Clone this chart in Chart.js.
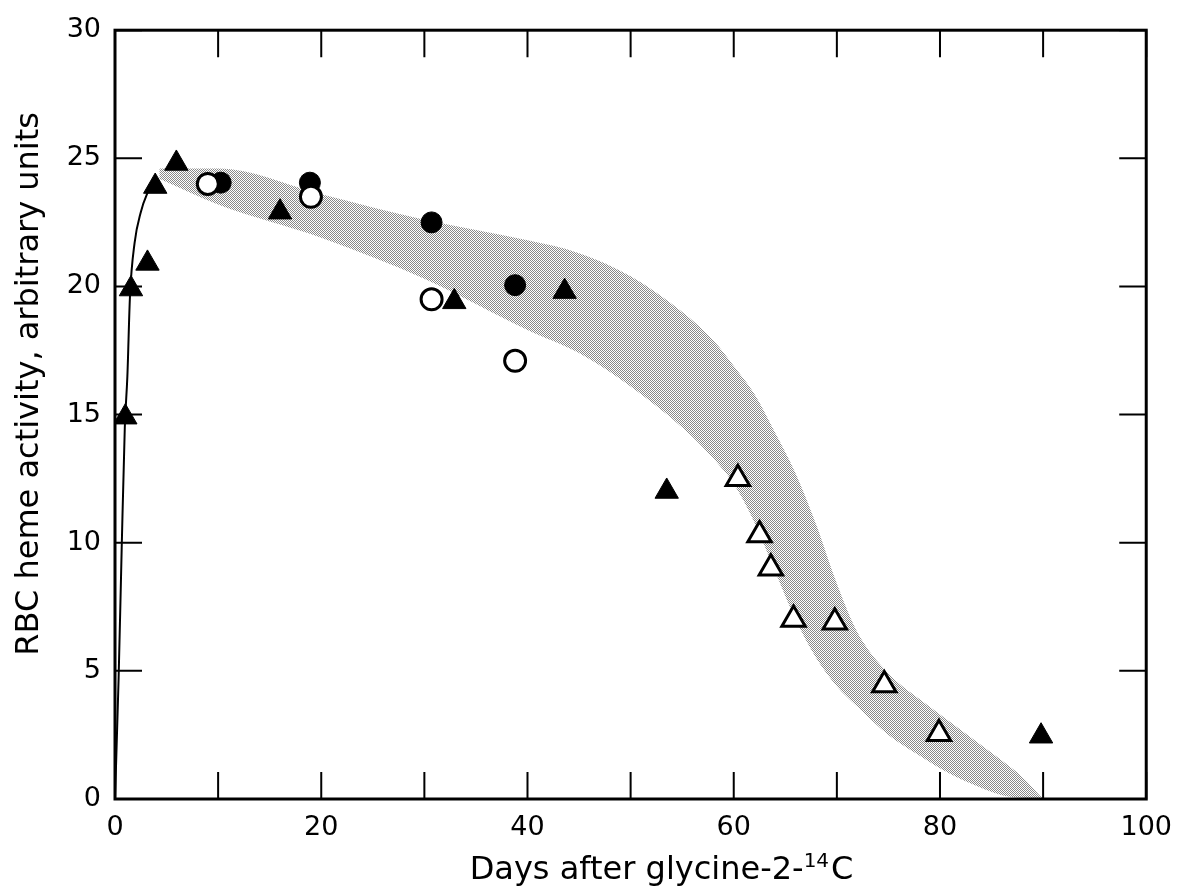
<!DOCTYPE html>
<html>
<head>
<meta charset="utf-8">
<script src="https://cdn.jsdelivr.net/npm/chart.js@4.4.1/dist/chart.umd.min.js"></script>
<style>
  body { margin: 0; background: #fff; }
  #wrap { width: 1185px; height: 896px; }
</style>
</head>
<body>
<div id="wrap"><canvas id="heme" width="1185" height="896"></canvas></div>
<script>
"use strict";

// Filled triangles
const filledTriDays = [1.0, 1.55, 3.15, 3.9, 5.95, 16.0, 32.9, 43.6, 53.5, 89.8];
const filledTriVals = [14.9, 19.9, 20.9, 23.9, 24.8, 22.9, 19.4, 19.8, 12.0, 2.45];

// Open triangles
const openTriDays = [60.4, 62.5, 63.6, 65.8, 69.8, 74.6, 79.9];
const openTriVals = [12.5, 10.3, 9.0, 7.0, 6.9, 4.45, 2.55];

// Filled circles
const filledCircDays = [10.25, 18.9, 30.7, 38.8];
const filledCircVals = [24.05, 24.05, 22.5, 20.05];

// Open circles
const openCircDays = [9.0, 19.0, 30.7, 38.8];
const openCircVals = [24.0, 23.5, 19.5, 17.1];

// Early rise curve
const riseDays = [0, 0.35, 0.65, 0.95, 1.2, 1.45, 1.9, 2.5, 3.1, 3.8];
const riseVals = [0, 4.7, 9.8, 14.5, 16.5, 19.6, 21.7, 22.9, 23.6, 24.1];

// Shaded band (upper and lower edge at same days)
const bandDays  = [4.3, 10, 20, 30, 40, 45, 50, 55, 58, 60, 62, 64, 66, 68, 70, 72, 75, 78, 80, 83, 86, 88, 90];
const bandUpper = [24.6, 24.6, 23.6, 22.6, 21.8, 21.3, 20.4, 19.0, 17.9, 16.9, 15.8, 14.3, 12.7, 10.7, 8.4, 6.5, 4.9, 3.9, 3.3, 2.4, 1.5, 0.85, 0];
const bandLower = [24.2, 23.2, 21.9, 20.3, 18.3, 17.4, 16.1, 14.5, 13.3, 12.3, 10.8, 8.9, 7.0, 5.5, 4.4, 3.6, 2.5, 1.7, 1.2, 0.6, 0.15, 0.05, 0];

// axis titles
const xTitleMain = 'Days after glycine-2-';
const xTitleSup = '14';
const xTitleTail = 'C';
const yTitle = 'RBC heme activity, arbitrary units';

const toPts = (xs, ys) => xs.map((v, i) => ({ x: v, y: ys[i] }));

// halftone look for the band
const pc = document.createElement('canvas');
pc.width = 2; pc.height = 2;
const pctx = pc.getContext('2d');
pctx.fillStyle = '#ffffff';
pctx.fillRect(0, 0, 2, 2);
pctx.fillStyle = '#888888';
pctx.fillRect(0, 0, 1, 1);
pctx.fillRect(1, 1, 1, 1);
const bandPattern = pctx.createPattern(pc, 'repeat');

const FONT = "'DejaVu Sans', sans-serif";

// box, inward ticks on all four sides, axis titles
const frame = {
    id: 'frame',
    afterDatasetsDraw(chart) {
        const { ctx, chartArea: a, scales: { x, y } } = chart;
        const len = 27;
        ctx.save();
        ctx.strokeStyle = '#000';
        ctx.lineWidth = 2;
        ctx.beginPath();
        x.ticks.forEach(t => {
            const px = x.getPixelForValue(t.value);
            ctx.moveTo(px, a.bottom); ctx.lineTo(px, a.bottom - len);
            ctx.moveTo(px, a.top); ctx.lineTo(px, a.top + len);
        });
        y.ticks.forEach(t => {
            const py = y.getPixelForValue(t.value);
            ctx.moveTo(a.left, py); ctx.lineTo(a.left + len, py);
            ctx.moveTo(a.right, py); ctx.lineTo(a.right - len, py);
        });
        ctx.stroke();
        ctx.lineWidth = 3;
        ctx.strokeRect(a.left, a.top, a.right - a.left, a.bottom - a.top);

        ctx.fillStyle = '#000';
        ctx.textBaseline = 'alphabetic';
        ctx.textAlign = 'left';
        // x title with raised 14
        const big = `32px ${FONT}`, small = `20px ${FONT}`;
        ctx.font = big;
        const w1 = ctx.measureText(xTitleMain).width;
        const w3 = ctx.measureText(xTitleTail).width;
        ctx.font = small;
        const w2 = ctx.measureText(xTitleSup).width + 2;
        let sx = x.getPixelForValue(53) - (w1 + w2 + w3) / 2;
        const base = 879;
        ctx.font = big;
        ctx.fillText(xTitleMain, sx, base);
        ctx.font = small;
        ctx.fillText(xTitleSup, sx + w1, base - 12);
        ctx.font = big;
        ctx.fillText(xTitleTail, sx + w1 + w2, base);

        // y title
        ctx.translate(38, y.getPixelForValue(16.2));
        ctx.rotate(-Math.PI / 2);
        ctx.textAlign = 'center';
        ctx.font = big;
        ctx.fillText(yTitle, 0, 0);
        ctx.restore();
    }
};

const marker = (label, data, style, fillColor) => ({
    label: label,
    data: data,
    showLine: false,
    pointStyle: style,
    pointRadius: style === 'triangle' ? 13.5 : 10.5,
    pointBackgroundColor: fillColor,
    pointBorderColor: '#000',
    pointBorderWidth: fillColor === '#000' ? 1 : 3
});

new Chart(document.getElementById('heme'), {
    type: 'scatter',
    data: {
        datasets: [
            marker('open circles', toPts(openCircDays, openCircVals), 'circle', '#fff'),
            marker('filled circles', toPts(filledCircDays, filledCircVals), 'circle', '#000'),
            marker('filled triangles', toPts(filledTriDays, filledTriVals), 'triangle', '#000'),
            marker('open triangles', toPts(openTriDays, openTriVals), 'triangle', '#fff'),
            {
                label: 'rise',
                data: toPts(riseDays, riseVals),
                showLine: true,
                borderColor: '#000',
                borderWidth: 2,
                pointRadius: 0,
                cubicInterpolationMode: 'monotone',
                fill: false
            },
            {
                label: 'band upper',
                data: toPts(bandDays, bandUpper),
                showLine: true,
                borderWidth: 0,
                borderColor: 'rgba(0,0,0,0)',
                pointRadius: 0,
                cubicInterpolationMode: 'monotone',
                fill: false
            },
            {
                label: 'band lower',
                data: toPts(bandDays, bandLower),
                showLine: true,
                borderWidth: 0,
                borderColor: 'rgba(0,0,0,0)',
                backgroundColor: bandPattern,
                pointRadius: 0,
                cubicInterpolationMode: 'monotone',
                fill: '-1'
            }
        ]
    },
    options: {
        responsive: false,
        animation: false,
        layout: { padding: { top: 15, right: 27, left: 0, bottom: 0 } },
        plugins: {
            legend: { display: false },
            tooltip: { enabled: false }
        },
        scales: {
            x: {
                type: 'linear',
                min: 0,
                max: 100,
                afterFit: s => { s.height = 97; },
                border: { display: false },
                grid: { display: false, drawTicks: false },
                ticks: {
                    stepSize: 10,
                    autoSkip: false,
                    maxRotation: 0,
                    padding: 13,
                    color: '#000',
                    font: { family: FONT, size: 27 },
                    callback: v => (v % 20 === 0 ? v : '')
                }
            },
            y: {
                min: 0,
                max: 30,
                afterFit: s => { s.width = 115; },
                border: { display: false },
                grid: { display: false, drawTicks: false },
                ticks: {
                    stepSize: 5,
                    padding: 14,
                    color: '#000',
                    font: { family: FONT, size: 27 }
                }
            }
        }
    },
    plugins: [frame]
});
</script>
</body>
</html>
